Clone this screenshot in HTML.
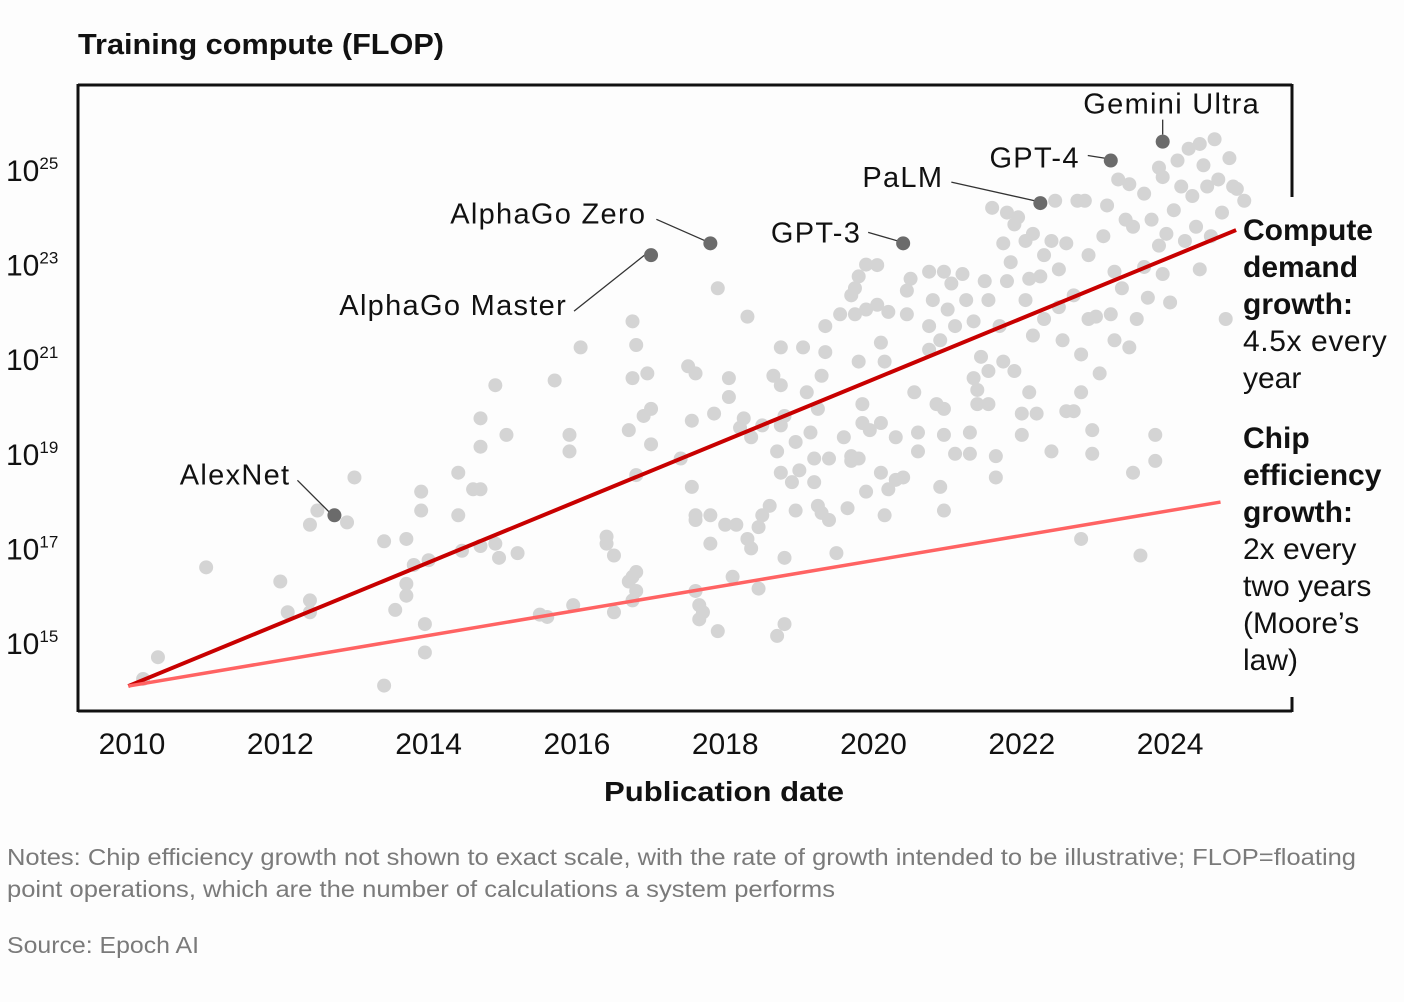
<!DOCTYPE html>
<html><head><meta charset="utf-8"><style>
html,body{margin:0;padding:0;background:#fdfdfd;}
svg{display:block;font-family:"Liberation Sans",sans-serif;}
</style></head><body>
<svg id="chart" width="1404" height="1002" viewBox="0 0 1404 1002" xmlns="http://www.w3.org/2000/svg">
<rect x="0" y="0" width="1404" height="1002" fill="#fdfdfd"/>
<text x="78" y="54" font-size="29" font-weight="bold" fill="#111" textLength="366" lengthAdjust="spacingAndGlyphs">Training compute (FLOP)</text>
<g id="grid"></g>
<g id="marks"></g>
<g id="ann"></g>
<line x1="78" y1="85" x2="1292" y2="85" stroke="#111" stroke-width="3"/>
<line x1="78" y1="84" x2="78" y2="712" stroke="#111" stroke-width="3"/>
<line x1="78" y1="711" x2="1292" y2="711" stroke="#111" stroke-width="3"/>
<line x1="1292" y1="84" x2="1292" y2="197" stroke="#111" stroke-width="3"/>
<line x1="1292" y1="697" x2="1292" y2="712" stroke="#111" stroke-width="3"/>
<text x="604" y="801" font-size="28" font-weight="bold" fill="#111" textLength="240" lengthAdjust="spacingAndGlyphs">Publication date</text>
<g font-size="30" fill="#111">
<text x="1243" y="240" font-weight="bold">Compute</text>
<text x="1243" y="277" font-weight="bold">demand</text>
<text x="1243" y="314" font-weight="bold">growth:</text>
<text x="1243" y="351" letter-spacing="0.6">4.5x every</text>
<text x="1243" y="388">year</text>
</g>
<g font-size="30" fill="#111">
<text x="1243" y="448" font-weight="bold">Chip</text>
<text x="1243" y="485" font-weight="bold">efficiency</text>
<text x="1243" y="522" font-weight="bold">growth:</text>
<text x="1243" y="559">2x every</text>
<text x="1243" y="596">two years</text>
<text x="1243" y="633">(Moore’s</text>
<text x="1243" y="670">law)</text>
</g>
<text x="7" y="865" font-size="23" fill="#7a7a7a" textLength="1349" lengthAdjust="spacingAndGlyphs">Notes: Chip efficiency growth not shown to exact scale, with the rate of growth intended to be illustrative; FLOP=floating</text>
<text x="7" y="897" font-size="23" fill="#7a7a7a" textLength="828" lengthAdjust="spacingAndGlyphs">point operations, which are the number of calculations a system performs</text>
<text x="7" y="953" font-size="23" fill="#7a7a7a" textLength="192" lengthAdjust="spacingAndGlyphs">Source: Epoch AI</text>
</svg>
<script>
const xTicks=[2010,2012,2014,2016,2018,2020,2022,2024];
const yTicks=[15,17,19,21,23,25];
const pointYears=[2010.15,2010.35,2011.0,2012.0,2012.1,2012.4,2012.4,2012.4,2012.5,2012.9,2013.0,2013.4,2013.4,2013.55,2013.7,2013.7,2013.7,2013.8,2013.9,2013.9,2013.95,2013.95,2014.0,2014.4,2014.4,2014.45,2014.6,2014.7,2014.7,2014.7,2014.7,2014.9,2014.9,2014.95,2015.05,2015.2,2015.5,2015.6,2015.7,2015.9,2015.9,2015.95,2016.05,2016.4,2016.4,2016.5,2016.5,2016.7,2016.7,2016.75,2016.75,2016.75,2016.75,2016.8,2016.8,2016.8,2016.8,2016.9,2016.95,2017.0,2017.0,2017.4,2017.5,2017.55,2017.55,2017.6,2017.6,2017.6,2017.6,2017.65,2017.65,2017.7,2017.8,2017.8,2017.85,2017.9,2017.9,2018.0,2018.05,2018.05,2018.1,2018.15,2018.2,2018.25,2018.3,2018.3,2018.35,2018.35,2018.45,2018.45,2018.5,2018.5,2018.6,2018.65,2018.7,2018.7,2018.75,2018.75,2018.75,2018.75,2018.8,2018.8,2018.8,2018.9,2018.95,2018.95,2019.0,2019.05,2019.1,2019.15,2019.2,2019.2,2019.25,2019.25,2019.3,2019.3,2019.35,2019.35,2019.4,2019.4,2019.5,2019.55,2019.6,2019.65,2019.7,2019.7,2019.7,2019.75,2019.75,2019.8,2019.8,2019.8,2019.85,2019.85,2019.9,2019.9,2019.9,2019.95,2020.05,2020.05,2020.1,2020.1,2020.1,2020.15,2020.15,2020.2,2020.2,2020.3,2020.3,2020.4,2020.45,2020.45,2020.5,2020.55,2020.6,2020.6,2020.75,2020.75,2020.75,2020.8,2020.85,2020.9,2020.9,2020.95,2020.95,2020.95,2020.95,2021.0,2021.05,2021.1,2021.1,2021.2,2021.25,2021.3,2021.3,2021.35,2021.35,2021.4,2021.4,2021.45,2021.5,2021.55,2021.55,2021.55,2021.6,2021.65,2021.65,2021.7,2021.75,2021.75,2021.8,2021.8,2021.85,2021.9,2021.9,2021.95,2022.0,2022.0,2022.05,2022.05,2022.1,2022.1,2022.15,2022.15,2022.2,2022.25,2022.3,2022.3,2022.4,2022.4,2022.45,2022.5,2022.5,2022.55,2022.6,2022.6,2022.7,2022.7,2022.75,2022.8,2022.8,2022.8,2022.85,2022.9,2022.9,2022.95,2022.95,2023.0,2023.05,2023.1,2023.15,2023.2,2023.25,2023.25,2023.3,2023.35,2023.4,2023.45,2023.45,2023.5,2023.5,2023.55,2023.6,2023.65,2023.65,2023.7,2023.75,2023.8,2023.8,2023.85,2023.85,2023.9,2023.9,2023.95,2024.0,2024.05,2024.1,2024.15,2024.2,2024.25,2024.3,2024.35,2024.4,2024.4,2024.45,2024.5,2024.55,2024.6,2024.65,2024.7,2024.75,2024.8,2024.85,2024.9,2025.0];
const pointExps=[14.24,14.7,16.6,16.3,15.65,15.65,15.9,17.5,17.8,17.55,18.5,17.15,14.1,15.7,16.25,16.0,17.2,16.65,17.8,18.2,15.4,14.8,16.75,18.6,17.7,16.95,18.25,19.15,19.75,17.05,18.25,20.45,17.1,16.8,19.4,16.9,15.6,15.55,20.55,19.4,19.05,15.8,21.25,17.1,17.25,16.85,15.65,19.5,16.3,21.8,20.6,15.9,16.4,18.55,16.5,21.3,16.1,19.8,20.7,19.2,19.95,18.9,20.85,19.7,18.3,17.6,16.1,20.7,17.7,15.5,15.8,15.65,17.1,17.7,19.85,15.25,22.5,17.5,20.2,20.6,16.4,17.5,19.55,19.75,17.2,21.9,17.0,19.35,16.15,17.45,17.7,19.6,17.9,20.65,19.05,15.15,21.25,20.45,19.6,18.6,15.4,16.8,19.8,18.4,19.25,17.8,18.65,21.25,20.3,19.45,18.9,18.4,19.95,17.9,20.65,17.75,21.7,21.15,18.9,17.6,16.9,21.95,19.35,17.85,22.35,18.85,18.95,21.95,22.5,18.9,22.75,20.95,19.65,20.05,18.2,22.05,23.0,19.5,22.15,22.99,18.6,19.65,21.35,17.7,20.95,18.25,22.0,19.35,18.45,18.5,21.95,22.45,22.7,20.3,19.45,19.05,22.85,21.2,21.7,22.25,20.05,21.4,18.3,17.8,19.4,22.85,19.95,22.05,22.6,19.0,21.7,22.8,22.25,19.0,19.45,20.6,21.8,20.05,20.35,21.05,22.65,22.25,20.05,20.75,24.2,18.5,18.95,21.7,23.45,20.95,22.65,24.1,23.05,23.85,20.75,24.0,19.4,19.85,22.25,23.5,20.3,22.7,21.5,23.65,19.85,22.75,23.2,21.85,19.05,23.5,24.35,22.1,22.9,21.4,19.9,23.45,22.35,19.9,24.35,21.1,17.2,20.3,24.35,21.85,23.2,19.0,19.5,21.9,20.7,23.6,24.25,21.95,21.4,22.85,24.8,22.5,23.95,21.25,24.7,18.6,23.8,21.85,16.85,22.95,24.5,22.3,23.95,18.85,19.4,25.05,23.4,22.8,24.85,23.65,22.2,24.15,25.2,24.65,23.5,25.45,24.45,23.8,25.55,22.9,25.1,24.65,23.6,25.65,24.8,24.1,21.85,25.25,24.65,24.6,24.35];
const modelNames=["AlexNet","AlphaGo Master","AlphaGo Zero","GPT-3","PaLM","GPT-4","Gemini Ultra"];
const modelYears=[2012.73,2017.0,2017.8,2020.4,2022.25,2023.2,2023.9];
const modelExps=[17.7,23.2,23.45,23.45,24.3,25.2,25.6];
const demandYears=[2009.95,2024.89];
const demandExps=[14.09,23.73];
const chipYears=[2009.95,2024.68];
const chipExps=[14.09,17.98];

const NS="http://www.w3.org/2000/svg";
function X(yr){return 132+(yr-2010)*74.15;}
function Y(e){return 170+(25-e)*47.3;}
function mk(tag,attrs,parent){const el=document.createElementNS(NS,tag);for(const k in attrs)el.setAttribute(k,attrs[k]);parent.appendChild(el);return el;}
const grid=document.getElementById('grid'),marks=document.getElementById('marks'),ann=document.getElementById('ann');

xTicks.forEach(t=>{
  const el=mk('text',{x:X(t),y:754,'font-size':30,'text-anchor':'middle',fill:'#111'},grid);
  el.textContent=t;
  
  
});
yTicks.forEach(t=>{
  const el=mk('text',{x:6,y:Y(t)+11,'font-size':30,fill:'#111'},grid);
  
  
  const b=document.createElementNS(NS,'tspan');b.textContent='10';el.appendChild(b);
  const s=document.createElementNS(NS,'tspan');s.setAttribute('dy','-12');s.setAttribute('font-size','17');s.textContent=t;el.appendChild(s);
});

pointYears.forEach((yr,i)=>{
  const c=mk('circle',{cx:X(yr),cy:Y(pointExps[i]),r:7,fill:'#d4d4d4'},marks);
  
  
});

const dl=mk('line',{x1:X(demandYears[0]),y1:Y(demandExps[0]),x2:X(demandYears[1]),y2:Y(demandExps[1]),stroke:'#c80000','stroke-width':4},marks);


const cl=mk('line',{x1:X(chipYears[0]),y1:Y(chipExps[0]),x2:X(chipYears[1]),y2:Y(chipExps[1]),stroke:'#ff6363','stroke-width':3.5},marks);



const lab=[[-44,-33,'end',-37,-35],[-84,58,'end',-77,56],[-64,-22,'end',-54,-24],[-42,-3,'end',-35,-11],[-97,-18,'end',-89,-21],[-31,5,'end',-23,-5],[9,-30,'middle',0,-22]];
modelNames.forEach((n,i)=>{
  const px=X(modelYears[i]),py=Y(modelExps[i]),o=lab[i];
  const ln=mk('line',{x1:px+o[3],y1:py+o[4],x2:px+(i==6?0:-4),y2:py-(i==6?7:2),stroke:'#333','stroke-width':1.3},ann);
  
  
  const c=mk('circle',{cx:px,cy:py,r:7,fill:'#6b6b6b'},ann);
  
  
  const t=mk('text',{x:px+o[0],y:py+o[1]+2,'font-size':29,'letter-spacing':1.3,'text-anchor':o[2],fill:'#111'},ann);
  t.textContent=n;
  
  
});
</script>
</body></html>
